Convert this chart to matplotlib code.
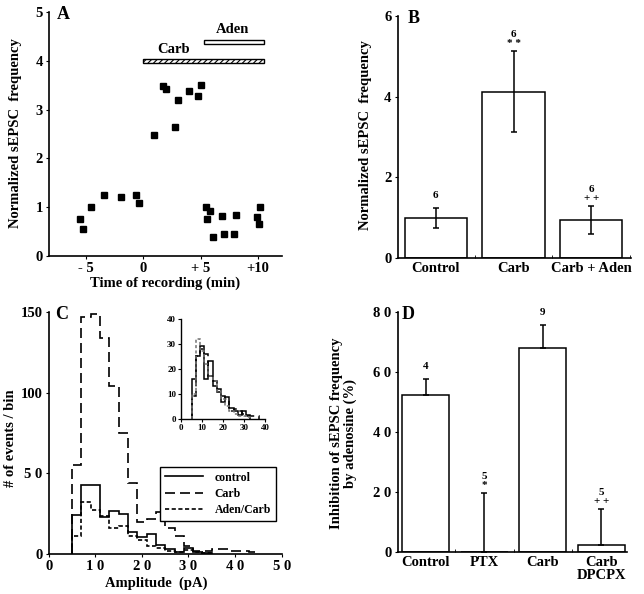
import numpy as np
import matplotlib
matplotlib.use('Agg')
import matplotlib.pyplot as plt
from matplotlib.patches import Rectangle

plt.rcParams['font.family'] = 'Liberation Serif'
plt.rcParams['font.weight'] = 'bold'
plt.rcParams['axes.labelweight'] = 'bold'
plt.rcParams['axes.linewidth'] = 1.2
plt.rcParams['hatch.linewidth'] = 0.8

# ---- Panel A: time course ----
a_time = [-5.5, -5.25, -4.5, -3.45, -1.9, -0.6, -0.4, 0.95, 1.75, 2.0, 2.8, 3.0, 4.0,
          4.8, 5.05, 5.45, 5.55, 5.85, 6.05, 6.85, 7.05, 7.9, 8.1, 9.9, 10.1, 10.2]
a_freq = [0.76, 0.56, 1.0, 1.24, 1.2, 1.24, 1.09, 2.48, 3.48, 3.43, 2.65, 3.2, 3.39,
          3.28, 3.51, 1.0, 0.76, 0.93, 0.38, 0.82, 0.45, 0.45, 0.85, 0.8, 0.65, 1.0]
carb_period = (0, 10.5)
aden_period = (5.3, 10.5)
a_xticks = [-5, 0, 5, 10]
a_xticklabels = ['- 5', '0', '+ 5', '+10']

# ---- Panel B: mean frequency ----
b_groups = ['Control', 'Carb', 'Carb + Aden']
b_mean = [1.0, 4.12, 0.94]
b_err = [0.24, 1.0, 0.35]
b_n = ['6', '6', '6']
b_sig = ['', '* *', '+ +']

# ---- Panel C: amplitude histograms (2 pA bins from 5 pA) ----
c_ctrl = [24, 43, 43, 23, 27, 25, 13.5, 10.5, 12.5, 5.6, 3, 1.5, 4, 1.5, 0.6]
c_carb = [55, 147, 149, 134, 104, 75, 44, 20, 22, 26, 16, 11, 5, 2, 2, 3, 3, 2, 2, 1]
c_aden = [11, 32, 27.5, 23.3, 16, 17.2, 11, 8.5, 5.2, 3.5, 2, 1.2, 2.5, 1, 0.5]
# inset (normalized)
i_ctrl = [16, 25, 29, 16, 23, 13, 10.5, 6.5, 8.5, 4.3, 3, 1.5, 3, 1.5]
i_carb = [9, 25, 28, 26, 17, 15, 12, 9, 8, 3, 4, 3, 2, 1, 1, 1]
i_aden = [10, 32, 27, 22, 17, 15, 11, 8, 5, 3, 2, 1, 1, 0.5]

# ---- Panel D: inhibition by adenosine ----
d_groups = ['Control', 'PTX', 'Carb', 'Carb\nDPCPX']
d_mean = [52.5, 0, 68.0, 2.3]
d_err = [5.1, 19.6, 7.7, 12.0]
d_n = ['4', '5', '9', '5']
d_sig = ['', '*', '', '+ +']

fs = 10.5
fig = plt.figure(figsize=(6.44, 5.94), dpi=100)


def edges_for(vals):
    return 5 + 2 * np.arange(len(vals) + 1)


def bar_panel(ax, groups, mean, err, n, sig, both):
    x = np.arange(len(groups))
    ax.bar(x, mean, width=0.8, color='white', edgecolor='black', linewidth=1.1, zorder=2)
    yerr = np.array(err) if both else [np.zeros(len(err)), err]
    ax.errorbar(x, mean, yerr=yerr, fmt='none', ecolor='black', elinewidth=1.1,
                capsize=2, capthick=1.1, zorder=3)
    for xi, m, e, nn, s in zip(x, mean, err, n, sig):
        top = m + e
        if s:
            ax.annotate(s, (xi, top), xytext=(0, 8), textcoords='offset pixels',
                        ha='center', va='center', fontsize=8, annotation_clip=False)
            ax.annotate(nn, (xi, top), xytext=(0, 17), textcoords='offset pixels',
                        ha='center', va='center', fontsize=8, annotation_clip=False)
        else:
            ax.annotate(nn, (xi, top), xytext=(0, 13), textcoords='offset pixels',
                        ha='center', va='center', fontsize=8, annotation_clip=False)
    ax.set_xticks(x)
    ax.set_xticklabels(groups, fontsize=fs, linespacing=0.95)
    ax.set_xticks(x[:-1] + 0.5, minor=True)
    ax.tick_params(axis='x', which='major', length=0, pad=3)
    ax.tick_params(axis='x', which='minor', direction='in', length=2)
    for sp in ['top', 'right']:
        ax.spines[sp].set_visible(False)


# ---- A ----
axA = fig.add_axes([0.0761, 0.569, 0.3618, 0.4108])
axA.plot(a_time, a_freq, 's', color='black', ms=4.5)
axA.add_patch(Rectangle((carb_period[0], 3.95), carb_period[1] - carb_period[0], 0.09,
                        fill=False, hatch='//////', lw=1.0))
axA.add_patch(Rectangle((aden_period[0], 4.35), aden_period[1] - aden_period[0], 0.08,
                        fill=False, lw=1.0))
axA.text(2.65, 4.24, 'Carb', ha='center', va='center', fontsize=fs)
axA.text(7.75, 4.65, 'Aden', ha='center', va='center', fontsize=fs)
axA.set_xlim(-8.2, 12.1)
axA.set_ylim(0, 5)
axA.set_xticks(a_xticks)
axA.set_xticklabels(a_xticklabels, fontsize=fs)
axA.set_yticks(range(6))
axA.tick_params(labelsize=fs, length=2.5, pad=2)
axA.set_xlabel('Time of recording (min)', fontsize=fs)
axA.xaxis.set_label_coords(0.5, -0.085)
axA.set_ylabel('Normalized sEPSC  frequency', fontsize=fs)
axA.yaxis.set_label_coords(-0.116, 0.504)
axA.text(0.06, 0.988, 'A', transform=axA.transAxes, fontsize=13, va='center', ha='center')
for sp in ['top', 'right']:
    axA.spines[sp].set_visible(False)

# ---- B ----
axB = fig.add_axes([0.6175, 0.5652, 0.3623, 0.4084])
bar_panel(axB, b_groups, b_mean, b_err, b_n, b_sig, True)
axB.set_xticks([0.5, 1.5, 2.5], minor=True)
axB.set_xlim(-0.49, 2.51)
axB.set_ylim(0, 6)
axB.set_yticks([0, 2, 4, 6])
axB.tick_params(axis='y', labelsize=fs, length=2.5, pad=2)
axB.set_ylabel('Normalized sEPSC  frequency', fontsize=fs)
axB.yaxis.set_label_coords(-0.111, 0.508)
axB.text(0.067, 0.989, 'B', transform=axB.transAxes, fontsize=13, va='center', ha='center')

# ---- C ----
axC = fig.add_axes([0.0756, 0.0673, 0.3618, 0.4069])
axC.stairs(c_ctrl, edges_for(c_ctrl), color='black', lw=1.2, baseline=0, label='control')
axC.stairs(c_carb, edges_for(c_carb), color='black', lw=1.2, baseline=0,
           linestyle=(0, (6, 3)), label='Carb')
axC.stairs(c_aden, edges_for(c_aden), color='black', lw=1.2, baseline=0,
           linestyle=(0, (2.5, 1.5)), label='Aden/Carb')
axC.set_xlim(0, 50)
axC.set_ylim(0, 150)
axC.set_xticks([0, 10, 20, 30, 40, 50])
axC.set_xticklabels(['0', '1 0', '2 0', '3 0', '4 0', '5 0'], fontsize=fs)
axC.set_yticks([0, 50, 100, 150])
axC.set_yticklabels(['0', '5 0', '100', '150'], fontsize=fs)
axC.tick_params(length=2.5, pad=2)
axC.set_xlabel('Amplitude  (pA)', fontsize=fs)
axC.xaxis.set_label_coords(0.463, -0.094)
axC.set_ylabel('# of events / bin', fontsize=fs)
axC.yaxis.set_label_coords(-0.135, 0.48)
axC.text(0.056, 0.989, 'C', transform=axC.transAxes, fontsize=13, va='center', ha='center')
for sp in ['top', 'right']:
    axC.spines[sp].set_visible(False)
leg = axC.legend(loc='upper right', bbox_to_anchor=(1.0, 0.385), fontsize=8.5,
                 handlelength=3.2, fancybox=False, edgecolor='black', framealpha=1,
                 borderpad=0.4, labelspacing=0.35, handletextpad=1.0)
leg.get_frame().set_linewidth(1.0)

axI = fig.add_axes([0.2811, 0.2951, 0.1304, 0.1684])
axI.stairs(i_ctrl, edges_for(i_ctrl), color='black', lw=1.1, baseline=0)
axI.stairs(i_carb, edges_for(i_carb), color='black', lw=1.1, baseline=0,
           linestyle=(0, (5, 3)))
axI.stairs(i_aden, edges_for(i_aden), color='0.45', lw=1.1, baseline=0,
           linestyle=(0, (2, 1.5)))
axI.set_xlim(0, 40)
axI.set_ylim(0, 40)
axI.set_xticks([0, 10, 20, 30, 40])
axI.set_xticklabels(['0', '10', '20', '30', '40'], fontsize=6.5)
axI.set_yticks([0, 10, 20, 30, 40])
axI.set_yticklabels(['0', '10', '20', '30', '40'], fontsize=6.5)
axI.tick_params(length=2, pad=1.5, width=0.8)
for sp in ['top', 'right']:
    axI.spines[sp].set_visible(False)
for sp in ['left', 'bottom']:
    axI.spines[sp].set_linewidth(1.0)

# ---- D ----
axD = fig.add_axes([0.6175, 0.0707, 0.3556, 0.4035])
bar_panel(axD, d_groups, d_mean, d_err, d_n, d_sig, False)
axD.set_xlim(-0.48, 3.43)
axD.set_ylim(0, 80)
axD.set_yticks([0, 20, 40, 60, 80])
axD.set_yticklabels(['0', '2 0', '4 0', '6 0', '8 0'], fontsize=fs)
axD.tick_params(axis='y', length=2.5, pad=2)
axD.set_ylabel('Inhibition of sEPSC frequency\nby adenosine (%)', fontsize=fs,
               linespacing=1.0)
axD.yaxis.set_label_coords(-0.179, 0.496)
axD.text(0.046, 0.989, 'D', transform=axD.transAxes, fontsize=13, va='center', ha='center')

fig.savefig('out.png', dpi=100)
